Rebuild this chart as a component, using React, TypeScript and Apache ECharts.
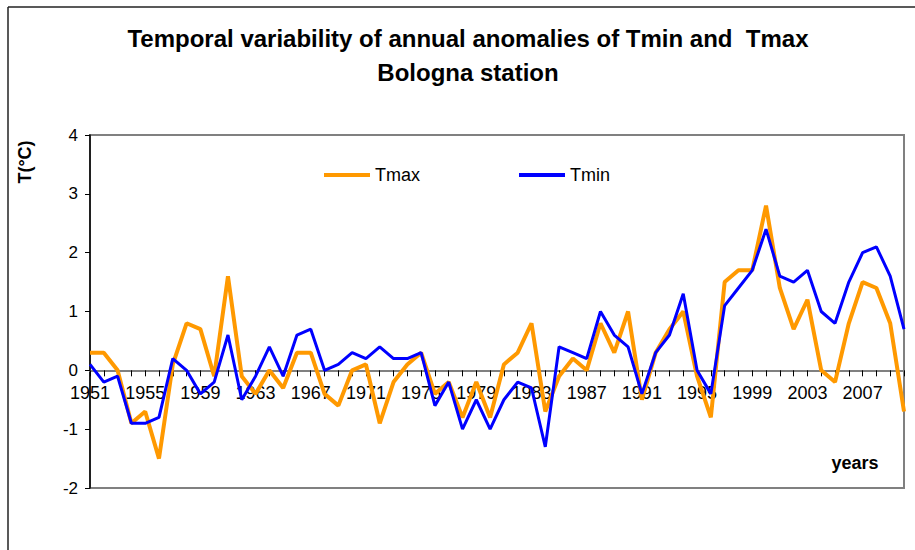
import React, { useEffect, useRef } from "react";
import * as echarts from "echarts";

const years: string[] = [];
for (let y = 1951; y <= 2010; y++) years.push(String(y));

const tmax = [
  0.3, 0.3, 0.0, -0.9, -0.7, -1.5, 0.1, 0.8, 0.7, -0.1,
  1.6, -0.1, -0.4, 0.0, -0.3, 0.3, 0.3, -0.4, -0.6, 0.0,
  0.1, -0.9, -0.2, 0.1, 0.3, -0.4, -0.2, -0.8, -0.2, -0.8,
  0.1, 0.3, 0.8, -0.7, -0.1, 0.2, 0.0, 0.8, 0.3, 1.0,
  -0.5, 0.3, 0.7, 1.0, -0.1, -0.8, 1.5, 1.7, 1.7, 2.8,
  1.4, 0.7, 1.2, 0.0, -0.2, 0.8, 1.5, 1.4, 0.8, -0.7,
];

const tmin = [
  0.1, -0.2, -0.1, -0.9, -0.9, -0.8, 0.2, 0.0, -0.4, -0.2,
  0.6, -0.5, -0.1, 0.4, -0.1, 0.6, 0.7, 0.0, 0.1, 0.3,
  0.2, 0.4, 0.2, 0.2, 0.3, -0.6, -0.2, -1.0, -0.5, -1.0,
  -0.5, -0.2, -0.3, -1.3, 0.4, 0.3, 0.2, 1.0, 0.6, 0.4,
  -0.4, 0.3, 0.6, 1.3, 0.0, -0.4, 1.1, 1.4, 1.7, 2.4,
  1.6, 1.5, 1.7, 1.0, 0.8, 1.5, 2.0, 2.1, 1.6, 0.7,
];

const yMin = -2;
const yMax = 4;
const titleLine1 = "Temporal variability of annual anomalies of Tmin and  Tmax";
const titleLine2 = "Bologna station";

export default function App() {
  const ref = useRef<HTMLDivElement>(null);
  useEffect(() => {
    document.body.style.margin = "0";
    if (!ref.current) return;
    const chart = echarts.init(ref.current, undefined, { renderer: "svg" });
    const font = "Liberation Sans, Arial, sans-serif";
    const gridTop = 135;
    const gridBottom = 62;
    const gridH = 550 - gridTop - gridBottom;
    const zeroOffset = -(gridH * (0 - yMin)) / (yMax - yMin);
    chart.setOption({
      animation: false,
      backgroundColor: "#ffffff",
      textStyle: { fontFamily: font },
      grid: {
        left: 90,
        right: 11,
        top: gridTop,
        bottom: gridBottom,
        show: true,
        borderColor: "#808080",
        borderWidth: 2,
      },
      legend: {
        left: 319,
        top: 161,
        itemGap: 99,
        itemWidth: 46,
        itemHeight: 4,
        icon: "rect",
        textStyle: { fontSize: 18, color: "#000", fontFamily: font },
        data: ["Tmax", "Tmin"],
      },
      xAxis: {
        type: "category",
        data: years,
        boundaryGap: false,
        position: "bottom",
        offset: zeroOffset,
        z: 0,
        axisLine: { onZero: false, lineStyle: { color: "#808080", width: 2 } },
        axisTick: { show: true, interval: 0, length: 6, lineStyle: { color: "#000", width: 1 } },
        axisLabel: { interval: 3, fontSize: 18, color: "#000", margin: 14, fontFamily: font },
        splitLine: { show: false },
      },
      yAxis: {
        type: "value",
        min: yMin,
        max: yMax,
        interval: 1,
        z: 0,
        axisLine: { show: true, lineStyle: { color: "#000", width: 1.5 } },
        axisTick: { show: true, length: 5, lineStyle: { color: "#000" } },
        axisLabel: { fontSize: 17, color: "#000", margin: 12, fontFamily: font },
        splitLine: { show: false },
      },
      series: [
        {
          name: "Tmax",
          type: "line",
          data: tmax,
          symbol: "none",
          z: 5,
          color: "#FF9900",
          lineStyle: { color: "#FF9900", width: 4 },
        },
        {
          name: "Tmin",
          type: "line",
          data: tmin,
          symbol: "none",
          z: 6,
          color: "#0000FF",
          lineStyle: { color: "#0000FF", width: 3 },
        },
      ],
      graphic: [
        { type: "line", shape: { x1: 8, y1: 7, x2: 915, y2: 7 }, style: { stroke: "#222", lineWidth: 1.5 } },
        { type: "line", shape: { x1: 8, y1: 7, x2: 8, y2: 550 }, style: { stroke: "#222", lineWidth: 1.5 } },
        {
          type: "text",
          x: 468,
          y: 38,
          style: { text: titleLine1, textAlign: "center", textVerticalAlign: "middle", font: `bold 24px ${font}`, fill: "#000" },
        },
        {
          type: "text",
          x: 468,
          y: 72,
          style: { text: titleLine2, textAlign: "center", textVerticalAlign: "middle", font: `bold 24px ${font}`, fill: "#000" },
        },
        {
          type: "text",
          x: 25,
          y: 162,
          rotation: Math.PI / 2,
          style: { text: "T(°C)", textAlign: "center", textVerticalAlign: "middle", font: `bold 18px ${font}`, fill: "#000" },
        },
        {
          type: "text",
          x: 855,
          y: 463,
          style: { text: "years", textAlign: "center", textVerticalAlign: "middle", font: `bold 18px ${font}`, fill: "#000" },
        },
      ],
    });
    return () => chart.dispose();
  }, []);
  return <div ref={ref} style={{ width: 915, height: 550 }} />;
}
